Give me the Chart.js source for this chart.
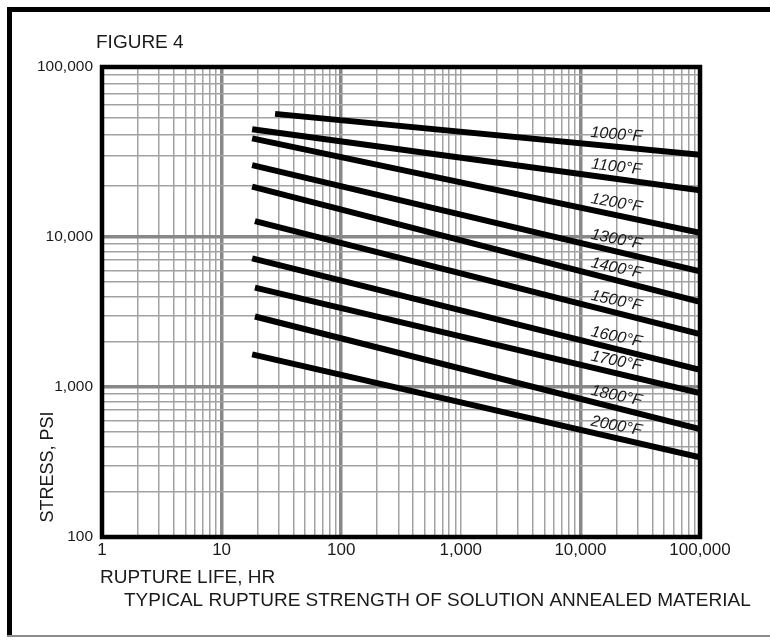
<!DOCTYPE html>
<html>
<head>
<meta charset="utf-8">
<title>Figure 4</title>
<script src="https://cdn.jsdelivr.net/npm/chart.js@4.4.1/dist/chart.umd.min.js"></script>
<style>
  html, body { margin: 0; padding: 0; background: #fff; }
  #chart { display: block; }
</style>
</head>
<body>
<canvas id="chart" width="770" height="641"></canvas>
<script>
// Rupture strength lines (hours, psi)
const temperatures = ["1000°F", "1100°F", "1200°F", "1300°F", "1400°F",
                      "1500°F", "1600°F", "1700°F", "1800°F", "2000°F"];
const startHours  = [28, 18, 18, 18, 18, 19, 18, 19, 19, 18];
const startStress = [53000, 43000, 38000, 26500, 19800, 12400, 7200, 4600, 2950, 1650];
const endHours    = [100000, 100000, 100000, 100000, 100000, 100000, 100000, 100000, 100000, 100000];
const endStress   = [30500, 18800, 10600, 5900, 3700, 2250, 1300, 910, 525, 340];

const xTickValues = [1, 10, 100, 1000, 10000, 100000];
const xTickLabels = ["1", "10", "100", "1,000", "10,000", "100,000"];
const yTickValues = [100, 1000, 10000, 100000];
const yTickLabels = ["100", "1,000", "10,000", "100,000"];

// heavier grey grid lines in the original
const xHeavy = [10, 100, 10000];
const yHeavy = [1000, 10000];

// top decade of the stress axis is drawn taller than the other two
const yDecadeWeights = [150, 150, 170];
const labelHours = 20000;

const FONT = '"Liberation Sans", Arial, sans-serif';
Chart.defaults.font.family = FONT;
Chart.defaults.color = "#1a1a1a";

function logGrid(min, max) {
  const out = [];
  for (let p = min; p < max; p *= 10) {
    for (let k = 1; k < 10; k++) out.push(p * k);
  }
  out.push(max);
  return out;
}

// log scale with uneven decade heights
class StretchedLogScale extends Chart.LogarithmicScale {
  decimalFor(value) {
    const total = yDecadeWeights.reduce((a, b) => a + b, 0);
    let d = Math.log10(value) - Math.log10(this.min);
    let acc = 0;
    for (let i = 0; i < yDecadeWeights.length; i++) {
      const w = yDecadeWeights[i];
      if (d <= 1 || i === yDecadeWeights.length - 1) return (acc + d * w) / total;
      acc += w;
      d -= 1;
    }
    return 1;
  }
  getPixelForValue(value) {
    if (value === undefined || value === 0) value = this.min;
    if (value === null || isNaN(value)) return NaN;
    return this.getPixelForDecimal(this.decimalFor(value));
  }
  getValueForPixel(pixel) {
    const total = yDecadeWeights.reduce((a, b) => a + b, 0);
    let f = this.getDecimalForPixel(pixel) * total;
    let d = 0;
    for (let i = 0; i < yDecadeWeights.length; i++) {
      const w = yDecadeWeights[i];
      if (f <= w || i === yDecadeWeights.length - 1) { d += f / w; break; }
      f -= w;
      d += 1;
    }
    return Math.pow(10, Math.log10(this.min) + d);
  }
}
StretchedLogScale.id = "stretchedLog";
Chart.register(StretchedLogScale);

const datasets = temperatures.map((t, i) => ({
  label: t,
  data: [{ x: startHours[i], y: startStress[i] }, { x: endHours[i], y: endStress[i] }],
  borderColor: "#000",
  borderWidth: 6,
  pointRadius: 0,
  fill: false,
  tension: 0
}));

function tickLabel(values, labels) {
  return (v) => {
    const i = values.indexOf(v);
    return i >= 0 ? labels[i] : "";
  };
}

// frame, titles and the temperature labels
const figureDecor = {
  id: "figureDecor",
  beforeDraw(chart) {
    const ctx = chart.ctx;
    ctx.save();
    ctx.fillStyle = "#fff";
    ctx.fillRect(0, 0, chart.width, chart.height);
    ctx.fillStyle = "#000";
    ctx.fillRect(7, 7, 763, 5);
    ctx.fillRect(7, 7, 5, 630);
    ctx.fillStyle = "#8c8c8c";
    ctx.fillRect(7, 635, 763, 2);
    ctx.restore();
  },
  afterDatasetsDraw(chart) {
    const { ctx, chartArea: a, scales: { x, y } } = chart;
    ctx.save();
    ctx.strokeStyle = "#000";
    ctx.lineWidth = 4.5;
    ctx.strokeRect(a.left, a.top, a.right - a.left, a.bottom - a.top);

    ctx.fillStyle = "#1a1a1a";
    ctx.font = "italic 16px " + FONT;
    ctx.textAlign = "center";
    ctx.textBaseline = "middle";
    temperatures.forEach((t, i) => {
      const x0 = x.getPixelForValue(startHours[i]), y0 = y.getPixelForValue(startStress[i]);
      const x1 = x.getPixelForValue(endHours[i]), y1 = y.getPixelForValue(endStress[i]);
      const px = x.getPixelForValue(labelHours);
      const py = y0 + (y1 - y0) * (px - x0) / (x1 - x0) - 12;
      ctx.save();
      ctx.translate(px, py);
      ctx.rotate(Math.atan2(y1 - y0, x1 - x0) * 0.85);
      ctx.fillText(t, 0, 0);
      ctx.restore();
    });

    ctx.textAlign = "left";
    ctx.font = "19px " + FONT;
    ctx.fillText("FIGURE 4", 96, 43);
    ctx.fillText("RUPTURE LIFE, HR", 100, 578);
    ctx.fillText("TYPICAL RUPTURE STRENGTH OF SOLUTION ANNEALED MATERIAL", 124, 601);

    ctx.font = "18px " + FONT;
    ctx.translate(48, 467);
    ctx.rotate(-Math.PI / 2);
    ctx.textAlign = "center";
    ctx.fillText("STRESS, PSI", 0, 0);
    ctx.restore();
  }
};

new Chart(document.getElementById("chart").getContext("2d"), {
  type: "line",
  data: { datasets },
  plugins: [figureDecor],
  options: {
    responsive: false,
    animation: false,
    events: [],
    layout: { padding: { left: 0, top: 67, right: 70, bottom: 0 } },
    plugins: { legend: { display: false }, tooltip: { enabled: false } },
    scales: {
      x: {
        type: "logarithmic",
        min: 1,
        max: 100000,
        afterFit: (s) => { s.height = 104; },
        afterBuildTicks: (s) => { s.ticks = logGrid(1, 100000).map((v) => ({ value: v })); },
        border: { display: false },
        grid: {
          drawTicks: false,
          color: (c) => xHeavy.includes(c.tick && c.tick.value) ? "#888" : "#a2a2a2",
          lineWidth: (c) => xHeavy.includes(c.tick && c.tick.value) ? 3.5 : 1.5
        },
        ticks: {
          autoSkip: false,
          maxRotation: 0,
          padding: 3,
          font: { size: 17 },
          color: "#1a1a1a",
          callback: tickLabel(xTickValues, xTickLabels)
        }
      },
      y: {
        type: "stretchedLog",
        min: 100,
        max: 100000,
        afterFit: (s) => { s.width = 102; },
        afterBuildTicks: (s) => { s.ticks = logGrid(100, 100000).map((v) => ({ value: v })); },
        border: { display: false },
        grid: {
          drawTicks: false,
          color: (c) => yHeavy.includes(c.tick && c.tick.value) ? "#888" : "#a2a2a2",
          lineWidth: (c) => yHeavy.includes(c.tick && c.tick.value) ? 3.5 : 1.5
        },
        ticks: {
          autoSkip: false,
          padding: 9,
          font: { size: 15.5 },
          color: "#1a1a1a",
          callback: tickLabel(yTickValues, yTickLabels)
        }
      }
    }
  }
});
</script>
</body>
</html>
